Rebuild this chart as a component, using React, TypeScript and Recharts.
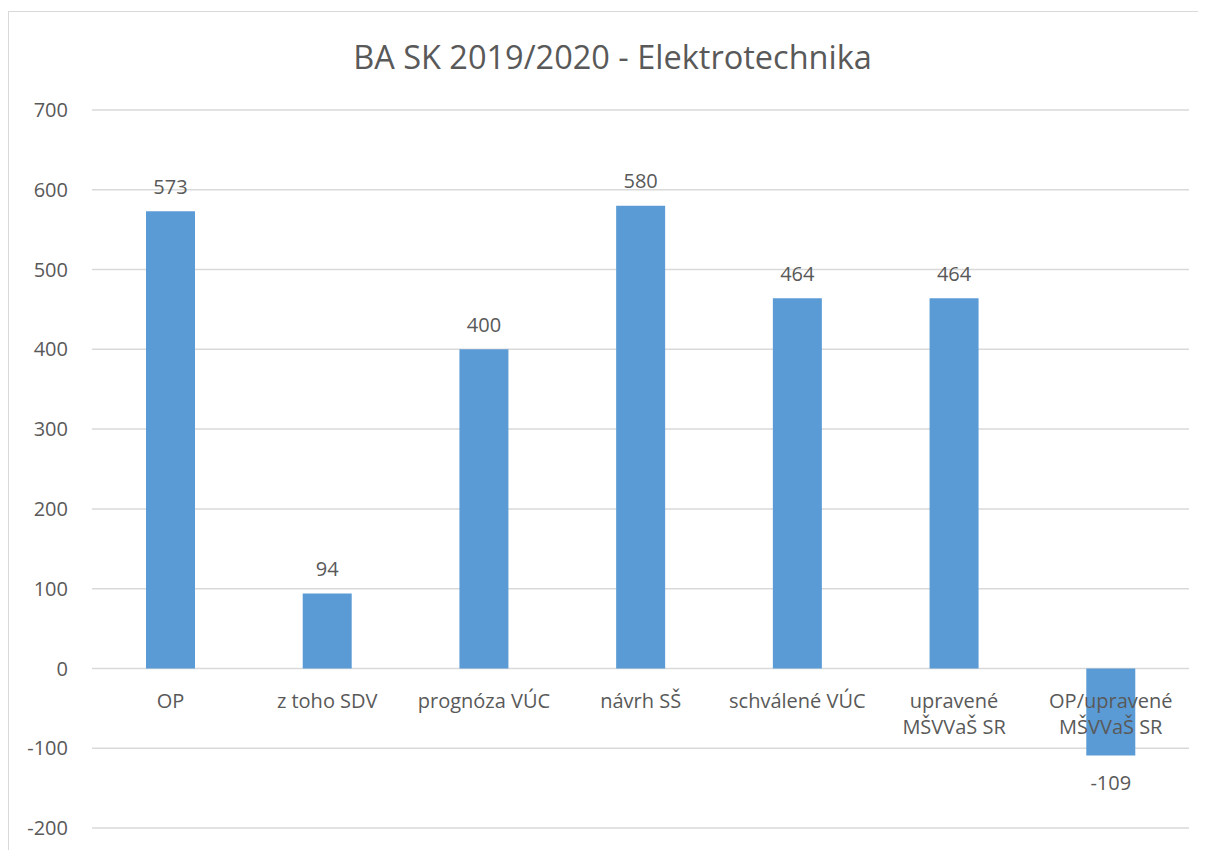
import React from 'react';
import { BarChart, Bar, XAxis, YAxis, CartesianGrid, LabelList } from 'recharts';

const categories = [
  'OP',
  'z toho SDV',
  'prognóza VÚC',
  'návrh SŠ',
  'schválené VÚC',
  'upravené MŠVVaŠ SR',
  'OP/upravené MŠVVaŠ SR',
];
const values = [573, 94, 400, 580, 464, 464, -109];
const yTicks = [-200, -100, 0, 100, 200, 300, 400, 500, 600, 700];

const data = categories.map((name, i) => ({ name, value: values[i] }));

const TEXT = '#595959';
const GRID = '#D9D9D9';
const BAR = '#5B9BD5';
const FONT = '"Open Sans", sans-serif';

// split long category names on the first space, like Excel wraps them
const wrap = (s: string) => {
  if (s.length <= 15) return [s];
  const i = s.indexOf(' ');
  return [s.slice(0, i), s.slice(i + 1)];
};

const ValueLabel = (props: any) => {
  const { x, y, width, height, value } = props;
  const top = Math.min(y, y + height);
  const bottom = Math.max(y, y + height);
  const cy = value >= 0 ? top - 25 : bottom + 27;
  return (
    <text x={x + width / 2} y={cy} textAnchor="middle" dominantBaseline="central"
      fill={TEXT} fontSize={20} fontFamily={FONT}>
      {value}
    </text>
  );
};

const CategoryLabel = (props: any) => {
  const { x, y, width, height, value, index } = props;
  const v = values[index];
  // zero line is the bar's base: bottom for positive bars, top for negative ones
  const zero = v >= 0 ? Math.max(y, y + height) : Math.min(y, y + height);
  const lines = wrap(String(value));
  return (
    <text x={x + width / 2} textAnchor="middle" fill={TEXT} fontSize={20} fontFamily={FONT}>
      {lines.map((l, i) => (
        <tspan key={i} x={x + width / 2} y={zero + 32 + i * 26} dominantBaseline="central">
          {l}
        </tspan>
      ))}
    </text>
  );
};

export default function App() {
  return (
    <div style={{
      position: 'relative', marginTop: 3, width: 1198, height: 839,
      borderTop: `1px solid ${GRID}`, borderLeft: `1px solid ${GRID}`,
      background: '#fff', boxSizing: 'border-box',
    }}>
      <div style={{
        position: 'absolute', top: 24, left: 0, width: 1207, textAlign: 'center',
        fontFamily: FONT, fontSize: 32.5, lineHeight: '42px', color: TEXT,
      }}>
        BA SK 2019/2020 - Elektrotechnika
      </div>
      <BarChart width={1197} height={838} data={data}
        margin={{ top: 98, right: 17, bottom: 22, left: 0 }}>
        <CartesianGrid vertical={false} stroke={GRID} strokeWidth={1.5} />
        <XAxis dataKey="name" hide />
        <YAxis domain={[-200, 700]} ticks={yTicks} width={83} axisLine={false}
          tickLine={false} tickSize={0} tickMargin={24}
          tick={{ fill: TEXT, fontSize: 20, fontFamily: FONT }} />
        <Bar dataKey="value" fill={BAR} barSize={49} isAnimationActive={false}>
          <LabelList dataKey="value" content={ValueLabel} />
          <LabelList dataKey="name" content={CategoryLabel} />
        </Bar>
      </BarChart>
    </div>
  );
}
